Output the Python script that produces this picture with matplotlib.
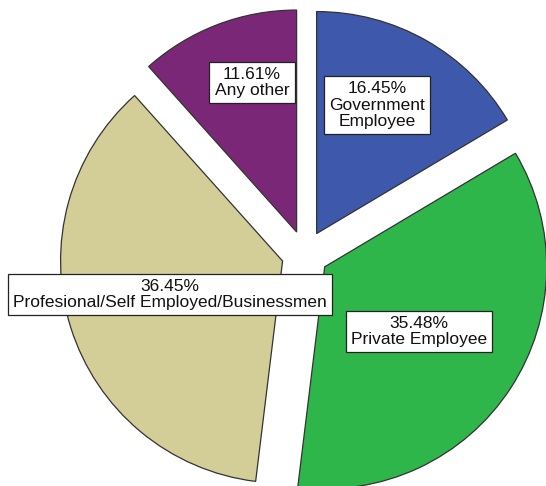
import numpy as np
import matplotlib.pyplot as plt

plt.rcParams['font.family'] = ['Liberation Sans', 'DejaVu Sans']

# data, clockwise from 12 o'clock
categories = ['Government\nEmployee', 'Private Employee',
              'Profesional/Self Employed/Businessmen', 'Any other']
percents = [16.45, 35.48, 36.45, 11.61]
colors = ['#3e58ac', '#2eb64a', '#d3ce97', '#7b2778']

# label box centres, in pixel units of the 546x486 canvas (y from bottom)
label_pos = [(377, 381), (419, 154.5), (170, 191.5), (252, 403.5)]

fig = plt.figure(figsize=(5.46, 4.86), dpi=100)
ax = fig.add_axes([0, 0, 1, 1])

# explode is in data units here (pixels)
wedges, _ = ax.pie(percents, colors=colors, startangle=90, counterclock=False,
                   center=(305, 232), radius=222, explode=[23.5] * 4,
                   wedgeprops=dict(edgecolor='#333333', linewidth=0.9))
ax.set_xlim(0, 546)
ax.set_ylim(0, 486)
ax.set_aspect('equal')
ax.axis('off')

for cat, pct, (x, y) in zip(categories, percents, label_pos):
    ax.text(x, y, '%.2f%%\n%s' % (pct, cat), ha='center', va='center',
            fontsize=12.5, linespacing=1.1, color='#111111',
            bbox=dict(boxstyle='square,pad=0.3', facecolor='white',
                      edgecolor='#222222', linewidth=0.9))

fig.savefig('out.png', dpi=100)
plt.close(fig)
